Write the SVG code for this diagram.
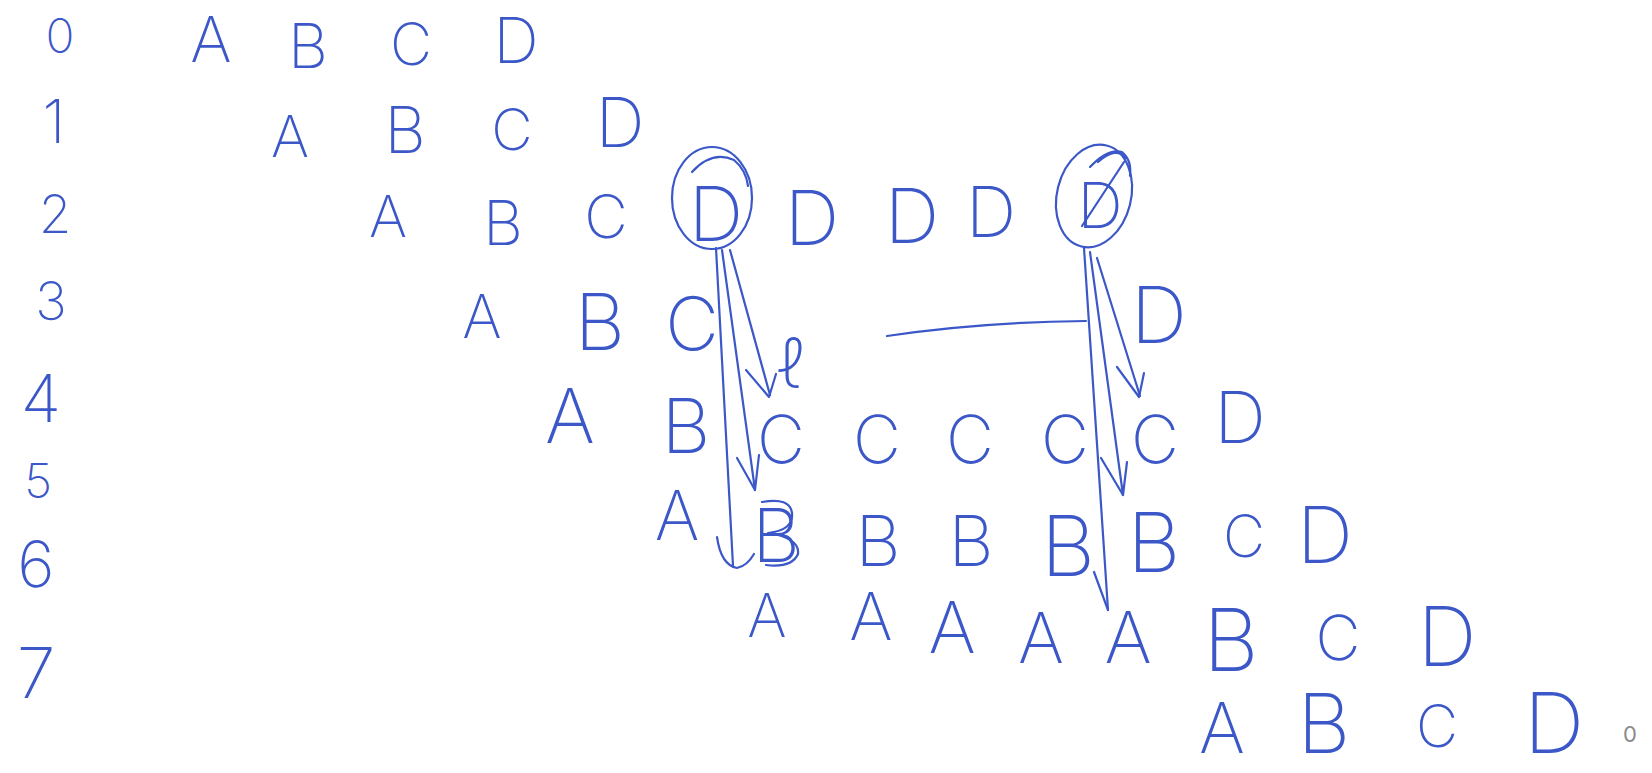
<svg xmlns="http://www.w3.org/2000/svg" width="1652" height="773" viewBox="0 0 1652 773">
<style>
text{font-family:Inter,Lato,"Noto Sans","Liberation Sans",sans-serif;font-weight:200;fill:#3b57c8;text-anchor:middle}
.ink{fill:none;stroke:#3b57c8;stroke-width:2.2;stroke-linecap:round;stroke-linejoin:round}
.pg{fill:#8a8a8a;font-size:22px;font-weight:400}
</style>
<rect width="1652" height="773" fill="#ffffff"/>
<g id="labels">
<text x="60" y="53" font-size="48">0</text>
<text x="54" y="143" font-size="60">1</text>
<text x="55" y="233" font-size="53">2</text>
<text x="51" y="320" font-size="53">3</text>
<text x="41" y="422" font-size="66">4</text>
<text x="38" y="498" font-size="48">5</text>
<text x="36" y="587" font-size="64">6</text>
<text x="36" y="698" font-size="70">7</text>
</g>
<g id="row0">
<text x="211" y="62" font-size="63">A</text>
<text x="308" y="68" font-size="62">B</text>
<text x="411" y="65" font-size="58">C</text>
<text x="516" y="63" font-size="63">D</text>
</g>
<g id="row1">
<text x="290" y="157" font-size="58">A</text>
<text x="405" y="153" font-size="64">B</text>
<text x="512" y="150" font-size="57">C</text>
<text x="620" y="147" font-size="68">D</text>
</g>
<g id="row2">
<text x="388" y="237" font-size="58">A</text>
<text x="503" y="245" font-size="62">B</text>
<text x="606" y="238" font-size="60">C</text>
<text x="812" y="245" font-size="76">D</text>
<text x="912" y="243" font-size="76">D</text>
<text x="991" y="237" font-size="70">D</text>
</g>
<g id="circledD1">
<text x="716" y="241" font-size="76">D</text>
<ellipse class="ink" cx="712" cy="198" rx="40" ry="51"/>
<path class="ink" d="M692,172 Q712,150 734,160 Q746,170 748,186"/>
</g>
<g id="circledD2">
<text x="1100" y="228" font-size="63">D</text>
<ellipse class="ink" cx="1094" cy="196" rx="37" ry="52" transform="rotate(14 1094 196)"/>
<path class="ink" d="M1090,167 Q1108,148 1122,152 Q1132,160 1130,176"/>
<path class="ink" d="M1098,162 Q1116,146 1126,158"/>
<path class="ink" d="M1082,226 L1124,162"/>
</g>
<g id="row3">
<text x="482" y="338" font-size="60">A</text>
<text x="600" y="350" font-size="78">B</text>
<text x="692" y="350" font-size="74">C</text>
<text x="792" y="388" font-size="70">ℓ</text>
<text x="1159" y="343" font-size="78">D</text>
</g>
<g id="row4">
<text x="570" y="443" font-size="76">A</text>
<text x="686" y="453" font-size="76">B</text>
<text x="781" y="463" font-size="66">C</text>
<text x="877" y="463" font-size="66">C</text>
<text x="970" y="463" font-size="66">C</text>
<text x="1065" y="463" font-size="66">C</text>
<text x="1155" y="463" font-size="66">C</text>
<text x="1240" y="443" font-size="72">D</text>
</g>
<g id="row5">
<text x="677" y="540" font-size="68">A</text>
<text x="776" y="562" font-size="74">B</text>
<path class="ink" d="M762,502 Q790,497 792,513 Q794,530 768,533 Q800,538 798,554 Q792,568 766,565"/>
<text x="878" y="566" font-size="70">B</text>
<text x="971" y="566" font-size="70">B</text>
<text x="1068" y="576" font-size="84">B</text>
<text x="1154" y="572" font-size="82">B</text>
<text x="1244" y="557" font-size="58">C</text>
<text x="1325" y="563" font-size="78">D</text>
</g>
<g id="row6">
<text x="767" y="637" font-size="60">A</text>
<text x="871" y="640" font-size="66">A</text>
<text x="952" y="653" font-size="72">A</text>
<text x="1041" y="663" font-size="70">A</text>
<text x="1128" y="663" font-size="72">A</text>
<text x="1231" y="671" font-size="86">B</text>
<text x="1338" y="660" font-size="62">C</text>
<text x="1447" y="666" font-size="82">D</text>
</g>
<g id="row7">
<text x="1222" y="753" font-size="70">A</text>
<text x="1324" y="753" font-size="82">B</text>
<text x="1437" y="747" font-size="58">C</text>
<text x="1554" y="753" font-size="84">D</text>
<text class="pg" x="1630" y="742">0</text>
</g>
<g id="connectors">
<path class="ink" d="M716,248 L733,566"/>
<path class="ink" d="M717,537 Q721,565 737,568 Q747,566 754,554"/>
<path class="ink" d="M722,250 L755,490"/>
<path class="ink" d="M737,458 L755,490 L759,455"/>
<path class="ink" d="M730,250 L770,395"/>
<path class="ink" d="M746,370 L769,397 L776,374"/>
<path class="ink" d="M887,336 Q980,322 1086,321"/>
<path class="ink" d="M1084,248 L1108,610"/>
<path class="ink" d="M1094,572 L1108,610"/>
<path class="ink" d="M1090,252 L1123,495"/>
<path class="ink" d="M1101,458 L1123,495 L1127,462"/>
<path class="ink" d="M1097,258 L1140,396"/>
<path class="ink" d="M1117,367 L1139,397 L1144,373"/>
</g>
</svg>
